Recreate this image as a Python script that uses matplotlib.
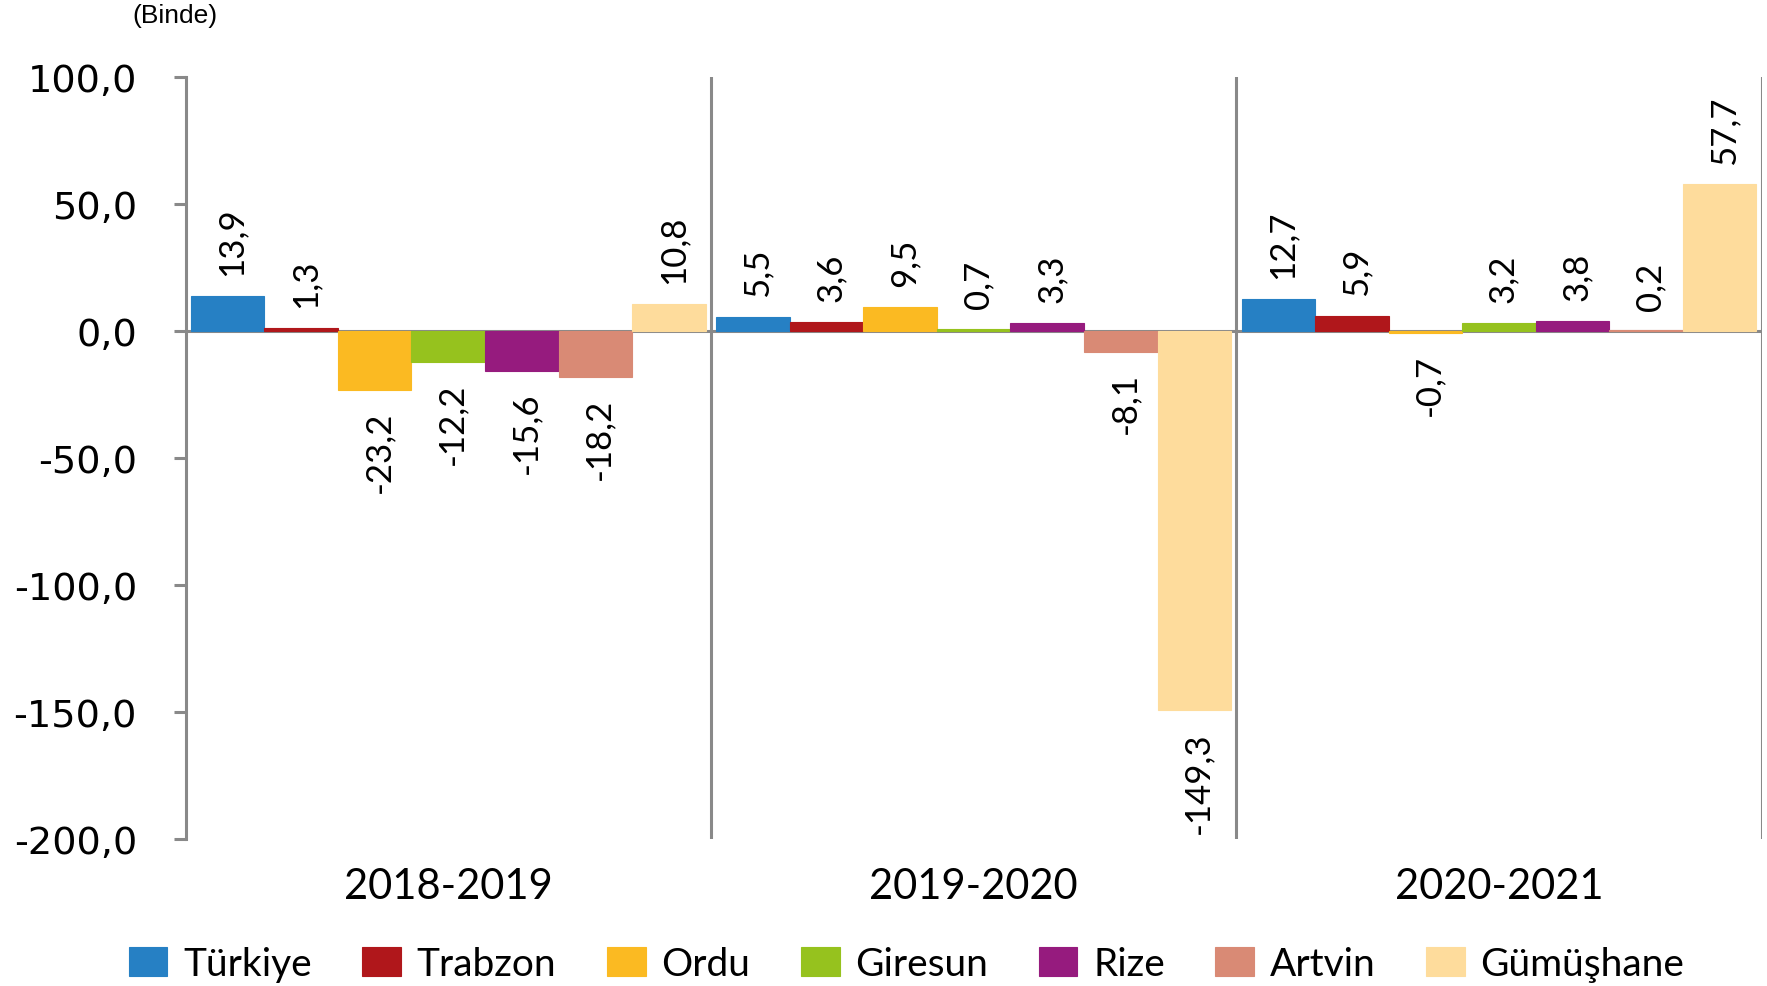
import matplotlib
matplotlib.use("Agg")
import matplotlib.pyplot as plt
import numpy as np

periods = ["2018-2019", "2019-2020", "2020-2021"]
regions = ["Türkiye", "Trabzon", "Ordu", "Giresun", "Rize", "Artvin", "Gümüşhane"]
values = {
    "Türkiye":   [13.9, 5.5, 12.7],
    "Trabzon":   [1.3, 3.6, 5.9],
    "Ordu":      [-23.2, 9.5, -0.7],
    "Giresun":   [-12.2, 0.7, 3.2],
    "Rize":      [-15.6, 3.3, 3.8],
    "Artvin":    [-18.2, -8.1, 0.2],
    "Gümüşhane": [10.8, -149.3, 57.7],
}
colors = ["#2680C4", "#B0171B", "#FBBA22", "#96C21E", "#961B7E", "#D98A75", "#FEDC9C"]
yticks = [100, 50, 0, -50, -100, -150, -200]
ytick_labels = ["100,0", "50,0", "0,0", "-50,0", "-100,0", "-150,0", "-200,0"]

fig = plt.figure(figsize=(17.67, 9.87), dpi=100)
ax = fig.add_axes([0.105, 0.149, 0.892, 0.772])

gray = "#898989"
x = np.arange(1, len(periods) + 1)
w = 0.14
handles = []
for i, (name, col) in enumerate(zip(regions, colors)):
    vals = values[name]
    pos = x + (i - 3) * w
    b = ax.bar(pos, vals, width=w, color=col, edgecolor=col, linewidth=0.8, label=name, zorder=3)
    handles.append(b)
    for xp, v in zip(pos, vals):
        lab = f"{v:.1f}".replace(".", ",")
        if v >= 0:
            ax.annotate(lab, (xp, v), xytext=(3, 15), textcoords="offset points",
                        rotation=90, ha="center", va="bottom", fontsize=25, family="Lato")
        else:
            ax.annotate(lab, (xp, v), xytext=(3, -15), textcoords="offset points",
                        rotation=90, ha="center", va="top", fontsize=25, family="Lato")

ax.set_xlim(0.5, 3.5)
ax.set_ylim(-200, 100)
ax.axhline(0, color=gray, lw=2.2, zorder=2)
for xs in [1.5, 2.5, 3.5]:
    ax.axvline(xs, color=gray, lw=2.2, zorder=4)

for s in ["top", "right", "bottom"]:
    ax.spines[s].set_visible(False)
ax.spines["left"].set_color(gray)
ax.spines["left"].set_linewidth(2.2)

ax.set_yticks(yticks)
ax.set_yticklabels(ytick_labels, fontsize=27.5, family="DejaVu Sans")
ax.tick_params(axis="y", length=9, width=2.2, color=gray, pad=26)
ax.set_xticks(x)
ax.set_xticklabels(periods, fontsize=30, family="Lato")
ax.tick_params(axis="x", length=0, pad=20)

fig.text(0.099, 0.984, "(Binde)", fontsize=19, family="Liberation Sans", ha="center", va="center")

leg = fig.legend(handles=handles, labels=regions, loc="center", bbox_to_anchor=(0.513, 0.022),
                 ncol=7, frameon=False, prop={"family": "Lato", "size": 28},
                 handlelength=1.0, handleheight=0.75, handletextpad=0.4, columnspacing=1.3)

fig.savefig("out.png", dpi=100)
